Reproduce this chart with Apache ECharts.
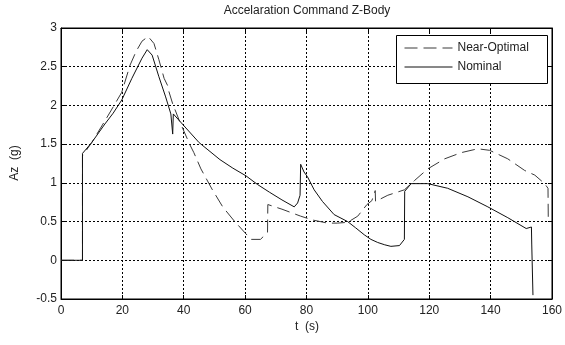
<!DOCTYPE html>
<html>
<head>
<meta charset="utf-8">
<script src="https://cdn.jsdelivr.net/npm/echarts@6/dist/echarts.min.js"></script>
<style>
html,body{margin:0;padding:0;background:#fff;}
#c{width:565px;height:345px;}
</style>
</head>
<body>
<div id="c"></div>
<script>
var titleText = 'Accelaration Command Z-Body';
var xName = 't  (s)';
var yName = 'Az  (g)';
var seriesNames = ['Near-Optimal', 'Nominal'];

var tNear = [0, 7, 7, 10, 14.3, 17, 19.8, 22.5, 24.5, 26.4, 28.4, 30.3, 31.9, 33.6, 34.7, 35.0, 36.4, 38.6, 41.9, 43.3, 45.6, 49.2, 52.7, 56.2, 60.3, 62, 65, 67.3, 67.4, 67.9, 72, 78.1, 82, 86.9, 90, 93.4, 96.7, 99.7, 101.3, 102.4, 102.5, 106.5, 111.9, 115.2, 119.5, 125, 130.4, 135.8, 139.7, 145.6, 151.1, 154.4, 157.6, 158.7, 158.8];
var vNear = [0, 0, 1.35, 1.52, 1.80, 1.98, 2.17, 2.52, 2.70, 2.83, 2.89, 2.80, 2.59, 2.35, 2.26, 2.2, 2.02, 1.80, 1.5, 1.39, 1.18, 0.92, 0.69, 0.52, 0.34, 0.27, 0.27, 0.36, 0.72, 0.72, 0.66, 0.57, 0.52, 0.48, 0.48, 0.49, 0.57, 0.72, 0.77, 0.90, 0.76, 0.84, 0.91, 1.03, 1.18, 1.31, 1.39, 1.44, 1.42, 1.31, 1.16, 1.10, 0.99, 0.93, 0.50];

var tNom = [0, 7, 7, 10, 14.3, 17, 19.8, 23.1, 26.4, 28.1, 29.7, 31.9, 34.1, 35.8, 36.4, 36.6, 40, 45, 51.8, 56, 60.3, 64, 67.9, 72, 76, 77.1, 77.9, 78.1, 79.2, 80.3, 82.5, 85.2, 89, 93.4, 96, 98.8, 101, 103.2, 105.5, 107.5, 110.3, 111.9, 112, 114.1, 119.5, 126, 132.6, 139.1, 145.6, 151.6, 153.3, 153.4, 153.7, 153.8];
var vNom = [0, 0, 1.38, 1.52, 1.76, 1.9, 2.07, 2.35, 2.61, 2.72, 2.65, 2.37, 2.11, 1.89, 1.63, 1.89, 1.74, 1.52, 1.30, 1.19, 1.09, 0.98, 0.88, 0.78, 0.69, 0.74, 0.84, 1.24, 1.14, 1.08, 0.91, 0.76, 0.59, 0.50, 0.42, 0.33, 0.27, 0.23, 0.20, 0.18, 0.19, 0.27, 0.89, 0.99, 0.99, 0.93, 0.82, 0.69, 0.55, 0.41, 0.43, 0.21, 0.21, -0.45];

function pairs(t, v) { return t.map(function (x, i) { return [x, v[i]]; }); }

var FONT = 'Liberation Sans, Arial, sans-serif';
var TXT = '#222';
var chart = echarts.init(document.getElementById('c'), null, {renderer: 'canvas'});

var gridLine = {show: true, lineStyle: {color: '#000', width: 1, type: [2, 2]}};
chart.setOption({
  animation: false,
  backgroundColor: '#fff',
  grid: {left: 61, right: 12, top: 28, bottom: 46, show: true, borderColor: '#000', borderWidth: 1, backgroundColor: 'transparent'},
  xAxis: [{
    type: 'value', min: 0, max: 160, interval: 20,
    axisLine: {show: true, onZero: false, lineStyle: {color: '#000'}},
    axisTick: {show: true, inside: true, length: 4, lineStyle: {color: '#000'}},
    axisLabel: {color: TXT, fontFamily: FONT, fontSize: 12, margin: 6},
    splitLine: gridLine
  }, {
    type: 'value', min: 0, max: 160, interval: 20, position: 'top',
    axisLine: {show: true, onZero: false, lineStyle: {color: '#000'}},
    axisTick: {show: true, inside: true, length: 4, lineStyle: {color: '#000'}},
    axisLabel: {show: false}, splitLine: {show: false}
  }],
  yAxis: [{
    type: 'value', min: -0.5, max: 3, interval: 0.5,
    axisLine: {show: true, onZero: false, lineStyle: {color: '#000'}},
    axisTick: {show: true, inside: true, length: 4, lineStyle: {color: '#000'}},
    axisLabel: {color: TXT, fontFamily: FONT, fontSize: 12, margin: 4},
    splitLine: gridLine
  }, {
    type: 'value', min: -0.5, max: 3, interval: 0.5, position: 'right',
    axisLine: {show: true, onZero: false, lineStyle: {color: '#000'}},
    axisTick: {show: true, inside: true, length: 4, lineStyle: {color: '#000'}},
    axisLabel: {show: false}, splitLine: {show: false}
  }],
  legend: {
    orient: 'vertical', left: 404, top: 42, padding: 0,
    itemWidth: 48, itemHeight: 14, itemGap: 7, z: 200,
    itemStyle: {opacity: 0},
    lineStyle: {width: 1},
    textStyle: {color: TXT, fontFamily: FONT, fontSize: 12},
    data: seriesNames
  },
  graphic: [
    {type: 'rect', z: 100, shape: {x: 396.5, y: 35.5, width: 151, height: 48}, style: {fill: '#fff', stroke: '#000', lineWidth: 1}},
    {type: 'text', z: 100, x: 307, y: 11, style: {text: titleText, fill: TXT, font: '12px ' + FONT, align: 'center', verticalAlign: 'middle'}},
    {type: 'text', z: 100, x: 307, y: 327, style: {text: xName, fill: TXT, font: '12px ' + FONT, align: 'center', verticalAlign: 'middle'}},
    {type: 'text', z: 100, x: 15, y: 163, rotation: Math.PI / 2, style: {text: yName, fill: TXT, font: '12px ' + FONT, align: 'center', verticalAlign: 'middle'}}
  ],
  series: [{
    name: seriesNames[0], type: 'line', symbol: 'none', xAxisIndex: 0, yAxisIndex: 0,
    lineStyle: {color: '#3a3a3a', width: 1, type: [13, 6]},
    itemStyle: {color: '#3a3a3a'},
    data: pairs(tNear, vNear)
  }, {
    name: seriesNames[1], type: 'line', symbol: 'none', xAxisIndex: 0, yAxisIndex: 0,
    lineStyle: {color: '#111', width: 1, type: 'solid'},
    itemStyle: {color: '#111'},
    data: pairs(tNom, vNom)
  }]
});
</script>
</body>
</html>
